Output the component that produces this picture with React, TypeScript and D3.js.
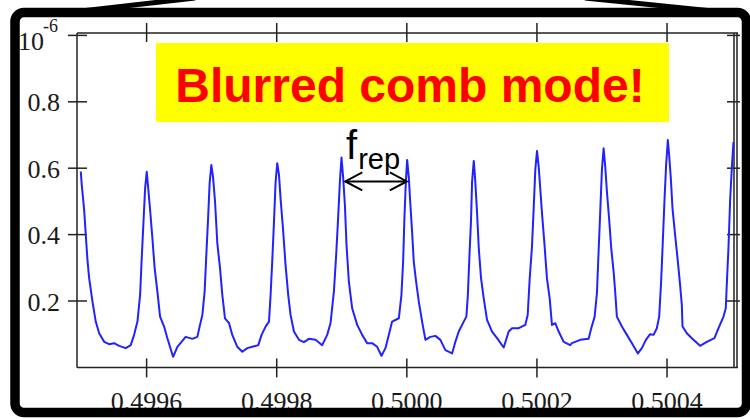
import React from "react";
import * as d3 from "d3";

// frequency axis (normalised), power in units of 1e-6
const freq = [
  0.4994988, 0.4995003, 0.499504, 0.4995065, 0.4995091, 0.4995117, 0.4995168, 0.4995218, 0.4995271, 0.4995347,
  0.4995424, 0.4995501, 0.4995578, 0.4995679, 0.4995756, 0.4995808, 0.4995859, 0.49959, 0.4995925, 0.4995951,
  0.4995977, 0.4996002, 0.4996023, 0.4996054, 0.4996089, 0.4996124, 0.4996166, 0.4996207, 0.4996269, 0.4996319,
  0.4996407, 0.4996473, 0.49966, 0.4996703, 0.499678, 0.4996821, 0.4996857, 0.4996892, 0.4996918, 0.4996944,
  0.4996969, 0.4996995, 0.4997021, 0.4997052, 0.4997087, 0.4997129, 0.4997164, 0.4997205, 0.4997267, 0.4997317,
  0.4997394, 0.4997471, 0.4997548, 0.4997625, 0.4997717, 0.4997767, 0.4997829, 0.4997881, 0.4997906, 0.4997932,
  0.4997958, 0.4997982, 0.4998008, 0.4998035, 0.4998059, 0.4998096, 0.4998136, 0.4998177, 0.4998213, 0.4998265,
  0.4998342, 0.4998418, 0.4998495, 0.4998597, 0.4998699, 0.4998776, 0.4998827, 0.4998879, 0.4998914, 0.4998945,
  0.4998971, 0.4998996, 0.4999022, 0.4999048, 0.4999073, 0.4999109, 0.499916, 0.4999237, 0.4999314, 0.499939,
  0.4999467, 0.4999544, 0.499961, 0.4999671, 0.4999724, 0.4999774, 0.4999877, 0.4999917, 0.4999943, 0.4999963,
  0.4999985, 0.5000005, 0.5000031, 0.5000055, 0.5000081, 0.5000107, 0.5000143, 0.5000184, 0.5000235, 0.5000286,
  0.5000362, 0.5000439, 0.5000516, 0.5000593, 0.5000696, 0.5000746, 0.5000798, 0.5000875, 0.5000915, 0.5000937,
  0.5000961, 0.5000987, 0.5001003, 0.5001029, 0.5001049, 0.5001079, 0.5001106, 0.5001141, 0.5001182, 0.5001233,
  0.500131, 0.5001387, 0.5001489, 0.5001566, 0.5001617, 0.500172, 0.5001821, 0.5001858, 0.5001889, 0.5001924,
  0.500195, 0.5001975, 0.5002001, 0.5002027, 0.5002051, 0.5002078, 0.5002113, 0.5002154, 0.5002196, 0.5002231,
  0.5002282, 0.5002334, 0.5002411, 0.5002512, 0.5002538, 0.5002666, 0.5002795, 0.5002835, 0.5002887, 0.5002922,
  0.5002948, 0.5002973, 0.5002999, 0.5003025, 0.500305, 0.5003076, 0.5003111, 0.5003142, 0.5003179, 0.5003203,
  0.5003229, 0.5003306, 0.5003383, 0.500346, 0.5003552, 0.5003613, 0.5003675, 0.500374, 0.5003793, 0.5003843,
  0.5003879, 0.5003909, 0.5003935, 0.5003962, 0.5003986, 0.5004012, 0.5004032, 0.5004058, 0.5004084, 0.5004124,
  0.5004161, 0.5004201, 0.5004227, 0.5004238, 0.5004304, 0.5004381, 0.5004508, 0.5004611, 0.5004729, 0.5004791,
  0.5004868, 0.5004903, 0.5004918, 0.5004944, 0.5004969, 0.5004995, 0.5005021,
];

const power = [
  0.59, 0.55, 0.474, 0.399, 0.323, 0.268, 0.198, 0.138, 0.103, 0.077,
  0.07, 0.073, 0.065, 0.058, 0.067, 0.098, 0.138, 0.218, 0.329, 0.434,
  0.539, 0.589, 0.544, 0.474, 0.389, 0.298, 0.228, 0.153, 0.123, 0.088,
  0.032, 0.062, 0.092, 0.086, 0.092, 0.128, 0.158, 0.228, 0.339, 0.444,
  0.555, 0.61, 0.574, 0.499, 0.374, 0.298, 0.218, 0.148, 0.133, 0.098,
  0.062, 0.047, 0.058, 0.062, 0.067, 0.098, 0.123, 0.138, 0.218, 0.323,
  0.439, 0.555, 0.615, 0.58, 0.509, 0.419, 0.308, 0.218, 0.158, 0.108,
  0.083, 0.076, 0.086, 0.083, 0.067, 0.098, 0.133, 0.228, 0.339, 0.454,
  0.559, 0.632, 0.57, 0.489, 0.369, 0.258, 0.178, 0.128, 0.098, 0.073,
  0.073, 0.062, 0.035, 0.058, 0.098, 0.138, 0.148, 0.218, 0.318, 0.449,
  0.559, 0.625, 0.57, 0.489, 0.409, 0.318, 0.258, 0.198, 0.138, 0.083,
  0.092, 0.095, 0.083, 0.052, 0.042, 0.077, 0.108, 0.138, 0.153, 0.213,
  0.329, 0.444, 0.559, 0.622, 0.57, 0.469, 0.359, 0.268, 0.208, 0.143,
  0.108, 0.088, 0.06, 0.108, 0.118, 0.118, 0.128, 0.158, 0.268, 0.364,
  0.479, 0.595, 0.652, 0.605, 0.539, 0.464, 0.379, 0.268, 0.208, 0.128,
  0.133, 0.108, 0.077, 0.067, 0.073, 0.083, 0.086, 0.118, 0.153, 0.223,
  0.349, 0.469, 0.595, 0.66, 0.605, 0.529, 0.444, 0.359, 0.288, 0.228,
  0.153, 0.123, 0.098, 0.073, 0.042, 0.058, 0.083, 0.1, 0.098, 0.118,
  0.153, 0.258, 0.379, 0.509, 0.61, 0.685, 0.64, 0.57, 0.479, 0.399,
  0.329, 0.248, 0.188, 0.123, 0.103, 0.088, 0.065, 0.077, 0.088, 0.118,
  0.153, 0.178, 0.248, 0.359, 0.499, 0.599, 0.679,
];

const xTicks = [0.4996, 0.4998, 0.5, 0.5002, 0.5004];
const xTickLabels = ["0.4996", "0.4998", "0.5000", "0.5002", "0.5004"];
const yTicks = [0.2, 0.4, 0.6, 0.8, 1.0];
const yTickLabels = ["0.2", "0.4", "0.6", "0.8"];
const xDomain = [0.499493, 0.500506];
const yDomain = [0, 1];
const title = "Blurred comb mode!";
const repFrom = 0.4999;
const repTo = 0.5;
const repLevel = 0.56;

export default function App() {
  const W = 750, H = 419;
  const L = 77, R = 736, T = 33, B = 367.4;
  const x = d3.scaleLinear().domain(xDomain).range([L, R]);
  const y = d3.scaleLinear().domain(yDomain).range([B, 35.4]);
  const pts = freq.map((f, i) => [f, power[i]] as [number, number]);
  const line = d3.line<[number, number]>().x((d) => x(d[0])).y((d) => y(d[1]));
  const serif = "'Liberation Serif', 'Times New Roman', serif";
  const sans = "'Liberation Sans', Arial, sans-serif";
  const ax = "#222";
  const ax1 = x(repFrom) + 3.5, ax2 = x(repTo), ay = y(repLevel);
  return (
    <svg width={W} height={H} style={{ position: "fixed", left: 0, top: 0, background: "#fff" }}>
      <rect x={0} y={0} width={W} height={H} fill="#fff" />
      {/* plot frame */}
      <g stroke={ax} strokeWidth={1.5} fill="none">
        <line x1={L} y1={T} x2={738} y2={T} />
        <line x1={L} y1={B} x2={738} y2={B} />
        <line x1={L} y1={T} x2={L} y2={B} />
        <line x1={734} y1={T} x2={734} y2={B} />
        <line x1={737} y1={T} x2={737} y2={B} />
        {xTicks.map((t) => (
          <g key={"xt" + t}>
            <line x1={x(t)} x2={x(t)} y1={B - 9} y2={B + 10} />
            <line x1={x(t)} x2={x(t)} y1={T - 10} y2={T + 9} />
          </g>
        ))}
        {yTicks.map((t) => (
          <g key={"yt" + t}>
            <line x1={L - 9} x2={L + 10} y1={y(t)} y2={y(t)} />
            <line x1={727} x2={740} y1={y(t)} y2={y(t)} />
          </g>
        ))}
      </g>
      {/* data */}
      <path d={line(pts) || ""} fill="none" stroke="#2222ff" strokeWidth={2} strokeLinejoin="round" />
      {/* tick labels */}
      {yTicks.slice(0, 4).map((t, i) => (
        <text key={"yl" + t} x={60} y={y(t) + 9.5} textAnchor="end" fontFamily={serif} fontSize={26} fill="#1a1a1a">
          {yTickLabels[i]}
        </text>
      ))}
      <text x={18} y={50} fontFamily={serif} fontSize={26} fill="#1a1a1a">10</text>
      <text x={43} y={32} fontFamily={serif} fontSize={18} fill="#1a1a1a">-6</text>
      {xTicks.map((t, i) => (
        <text key={"xl" + t} x={x(t)} y={409.6} textAnchor="middle" fontFamily={serif} fontSize={26} fill="#1a1a1a">
          {xTickLabels[i]}
        </text>
      ))}
      {/* yellow label */}
      <rect x={156} y={43} width={513} height={79} fill="#ffff00" />
      <text x={410} y={101.5} textAnchor="middle" fontFamily={sans} fontWeight="bold" fontSize={48} fill="#ff0000">
        {title}
      </text>
      {/* f_rep annotation */}
      <text x={346} y={159} fontFamily={sans} fontSize={40} fill="#000">
        f
        <tspan fontSize={29} dy={10} dx={1}>rep</tspan>
      </text>
      <g stroke="#000" strokeWidth={2} fill="none">
        <line x1={ax1} y1={ay} x2={ax2} y2={ay} />
        <polyline points={`${ax1 + 17},${ay - 9} ${ax1},${ay} ${ax1 + 17},${ay + 9}`} />
        <polyline points={`${ax2 - 17},${ay - 9} ${ax2},${ay} ${ax2 - 17},${ay + 9}`} />
      </g>
      {/* outer callout frame */}
      <g stroke="#000" fill="none">
        <rect x={15} y={12.5} width={731.5} height={400} rx={9} strokeWidth={9.5} />
        <line x1={55} y1={14} x2={195} y2={-2} strokeWidth={5} />
        <line x1={585} y1={-2} x2={742} y2={14} strokeWidth={5} />
      </g>
    </svg>
  );
}
